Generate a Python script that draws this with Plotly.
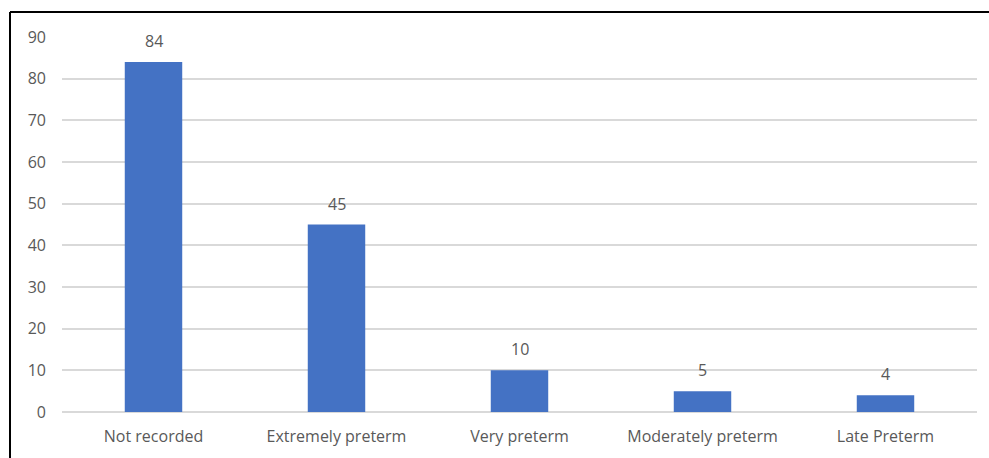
import plotly.graph_objects as go

categories = ["Not recorded", "Extremely preterm", "Very preterm", "Moderately preterm", "Late Preterm"]
counts = [84, 45, 10, 5, 4]
y_ticks = [0, 10, 20, 30, 40, 50, 60, 70, 80, 90]

W, H = 989, 458
ML, MR, MT, MB = 62, 12, 37, 46
plot_w = W - ML - MR
plot_h = H - MT - MB

text_color = "#595959"
font_family = "Open Sans, Liberation Sans, sans-serif"
fsize = 16

fig = go.Figure()
fig.add_trace(go.Bar(
    x=categories,
    y=counts,
    marker=dict(color="#4472C4", line=dict(width=0)),
    width=0.314,
    hoverinfo="x+y",
))

# value labels above each bar
for cat, val in zip(categories, counts):
    fig.add_annotation(
        x=cat, y=val, text=str(val), showarrow=False,
        xref="x", yref="y", yanchor="bottom", yshift=8,
        font=dict(size=fsize, color=text_color, family=font_family),
    )

# frame lines on the left and top of the chart area
left_x = (10 - ML) / plot_w
top_y = 1 + (MT - 12) / plot_h
fig.add_shape(type="line", xref="paper", yref="paper",
              x0=left_x, x1=left_x, y0=-2, y1=top_y,
              line=dict(color="#000000", width=2))
fig.add_shape(type="line", xref="paper", yref="paper",
              x0=left_x, x1=2, y0=top_y, y1=top_y,
              line=dict(color="#000000", width=2))

fig.update_layout(
    width=W, height=H,
    margin=dict(l=ML, r=MR, t=MT, b=MB, pad=0),
    paper_bgcolor="#FFFFFF",
    plot_bgcolor="#FFFFFF",
    showlegend=False,
    bargap=0.686,
    font=dict(family=font_family, size=fsize, color=text_color),
)
fig.update_xaxes(
    showgrid=False, showline=False, zeroline=False,
    ticks="", ticklabelstandoff=13,
    tickfont=dict(size=fsize, color=text_color, family=font_family),
)
fig.update_yaxes(
    range=[0, 90], tickvals=y_ticks,
    showgrid=True, gridcolor="#D9D9D9", gridwidth=1.5,
    zeroline=True, zerolinecolor="#D9D9D9", zerolinewidth=1.5,
    showline=False, ticks="", ticklabelstandoff=15,
    tickfont=dict(size=fsize, color=text_color, family=font_family),
)

fig.write_html("out.html")
